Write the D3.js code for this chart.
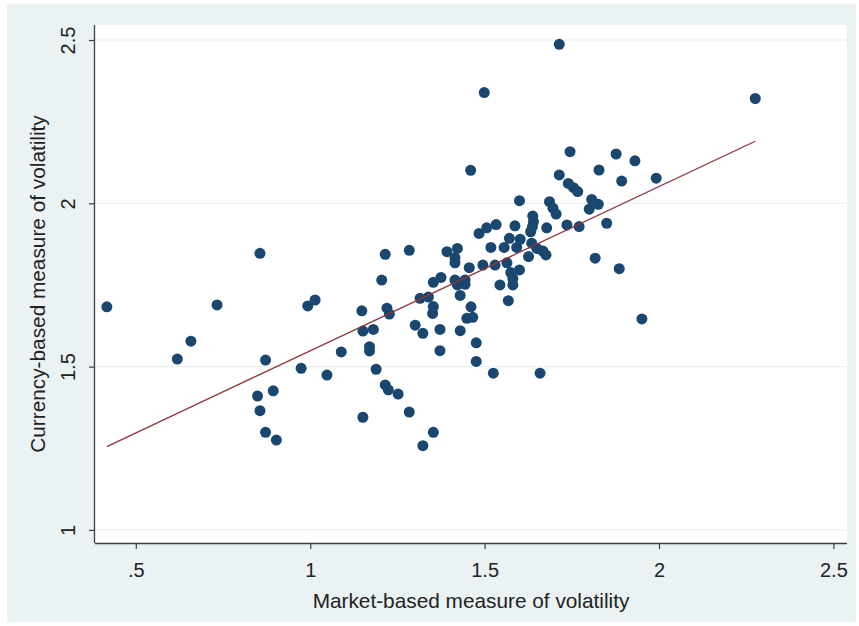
<!DOCTYPE html>
<html>
<head>
<meta charset="utf-8">
<script src="https://cdn.jsdelivr.net/npm/d3@7"></script>
<style>
  html, body { margin: 0; padding: 0; background: #ffffff; }
  svg { display: block; }
  text { font-family: "Liberation Sans", Arial, sans-serif; }
</style>
</head>
<body>
<svg id="chart" width="859" height="626"></svg>
<script>
// ---- data ----
const marketVol = [
  0.417, 0.619, 0.658, 0.733, 0.856, 0.872, 0.849, 0.856, 0.894, 0.872,
  0.903, 0.974, 0.993, 1.014, 1.048, 1.089, 1.148, 1.151, 1.151, 1.181,
  1.170, 1.170, 1.189, 1.205, 1.215, 1.220, 1.227, 1.215, 1.224, 1.252,
  1.284, 1.284, 1.301, 1.323, 1.315, 1.339, 1.353, 1.351, 1.353, 1.375,
  1.353, 1.323, 1.372, 1.372, 1.392, 1.422, 1.415, 1.415, 1.415, 1.444,
  1.422, 1.444, 1.430, 1.430, 1.456, 1.460, 1.461, 1.449, 1.466, 1.476,
  1.476, 1.499, 1.484, 1.506, 1.495, 1.518, 1.525, 1.530, 1.533, 1.544,
  1.556, 1.564, 1.568, 1.571, 1.575, 1.581, 1.581, 1.587, 1.592, 1.600,
  1.600, 1.602, 1.626, 1.635, 1.650, 1.667, 1.676, 1.638, 1.640, 1.637,
  1.632, 1.659, 1.678, 1.686, 1.696, 1.705, 1.714, 1.714, 1.736, 1.740,
  1.755, 1.767, 1.745, 1.771, 1.807, 1.826, 1.800, 1.817, 1.828, 1.850,
  1.877, 1.886, 1.893, 1.931, 1.992, 1.951, 2.276
];
const currencyVol = [
  1.683, 1.523, 1.578, 1.689, 1.847, 1.520, 1.410, 1.365, 1.426, 1.299,
  1.275, 1.495, 1.686, 1.704, 1.474, 1.545, 1.671, 1.609, 1.345, 1.614,
  1.561, 1.548, 1.492, 1.765, 1.844, 1.679, 1.661, 1.444, 1.429, 1.416,
  1.856, 1.361, 1.627, 1.602, 1.709, 1.713, 1.684, 1.663, 1.758, 1.773,
  1.299, 1.258, 1.614, 1.549, 1.852, 1.862, 1.833, 1.818, 1.765, 1.765,
  1.750, 1.752, 1.718, 1.610, 1.803, 2.101, 1.683, 1.648, 1.651, 1.573,
  1.516, 2.339, 1.908, 1.925, 1.811, 1.865, 1.480, 1.811, 1.935, 1.750,
  1.865, 1.818, 1.702, 1.893, 1.788, 1.770, 1.750, 1.931, 1.865, 1.796,
  2.008, 1.890, 1.837, 1.878, 1.862, 1.854, 1.842, 1.961, 1.944, 1.928,
  1.913, 1.480, 1.925, 2.005, 1.985, 1.967, 2.487, 2.087, 1.934, 2.061,
  2.048, 2.036, 2.158, 1.929, 2.012, 1.997, 1.982, 1.832, 2.102, 1.939,
  2.151, 1.800, 2.068, 2.130, 2.077, 1.646, 2.321
];
const xTicks = [0.5, 1, 1.5, 2, 2.5];
const xTickLabels = [".5", "1", "1.5", "2", "2.5"];
const yTicks = [1, 1.5, 2, 2.5];
const yTickLabels = ["1", "1.5", "2", "2.5"];
const xTitle = "Market-based measure of volatility";
const yTitle = "Currency-based measure of volatility";

// ---- layout ----
const plot = { left: 95, right: 847, top: 25, bottom: 543 };

const svg = d3.select("#chart");

// graph region (light blue-grey) and plot region (white)
svg.append("rect").attr("x", 7).attr("y", 4).attr("width", 849).attr("height", 618)
  .attr("fill", "#eaf2f3");
svg.append("rect").attr("x", plot.left).attr("y", plot.top)
  .attr("width", plot.right - plot.left).attr("height", plot.bottom - plot.top)
  .attr("fill", "#ffffff");

const x = d3.scaleLinear().domain([0.383, 2.539]).range([plot.left, plot.right]);
const y = d3.scaleLinear().domain([0.960, 2.546]).range([plot.bottom, plot.top]);

// horizontal grid lines
svg.append("g").selectAll("line").data(yTicks).join("line")
  .attr("x1", plot.left).attr("x2", plot.right)
  .attr("y1", d => y(d)).attr("y2", d => y(d))
  .attr("stroke", "#eaf2f3").attr("stroke-width", 1.2);

// data points
const pts = marketVol.map((v, i) => ({ x: v, y: currencyVol[i] }));
svg.append("g").selectAll("circle").data(pts).join("circle")
  .attr("cx", d => x(d.x)).attr("cy", d => y(d.y)).attr("r", 5.5)
  .attr("fill", "#1a476f");

// linear fit (least squares on the data)
const mx = d3.mean(marketVol), my = d3.mean(currencyVol);
let sxy = 0, sxx = 0;
pts.forEach(p => { sxy += (p.x - mx) * (p.y - my); sxx += (p.x - mx) * (p.x - mx); });
const slope = sxy / sxx, intercept = my - slope * mx;
const [x0, x1] = d3.extent(marketVol);
svg.append("line")
  .attr("x1", x(x0)).attr("y1", y(intercept + slope * x0))
  .attr("x2", x(x1)).attr("y2", y(intercept + slope * x1))
  .attr("stroke", "#90353b").attr("stroke-width", 1.3);

// axes
const xAxis = d3.axisBottom(x).tickValues(xTicks).tickSize(6)
  .tickFormat((d, i) => xTickLabels[i]);
const gx = svg.append("g").attr("transform", `translate(0,${plot.bottom})`).call(xAxis);
gx.select(".domain").attr("d", `M${plot.left},0.5H${plot.right}`).attr("stroke", "#3c3c3c").attr("stroke-width", 1.3);
gx.selectAll(".tick line").attr("stroke", "#3c3c3c").attr("stroke-width", 1.2);
gx.selectAll(".tick text").attr("font-size", 20).attr("fill", "#222").attr("dy", "1.25em")
  .attr("font-family", "'Liberation Sans', Arial, sans-serif");

const yAxis = d3.axisLeft(y).tickValues(yTicks).tickSize(6)
  .tickFormat((d, i) => yTickLabels[i]);
const gy = svg.append("g").attr("transform", `translate(${plot.left},0)`).call(yAxis);
gy.select(".domain").attr("d", `M-0.5,${plot.bottom}V${plot.top}`).attr("stroke", "#3c3c3c").attr("stroke-width", 1.3);
gy.selectAll(".tick line").attr("stroke", "#3c3c3c").attr("stroke-width", 1.2);
gy.selectAll(".tick text")
  .attr("font-size", 20).attr("fill", "#222")
  .attr("font-family", "'Liberation Sans', Arial, sans-serif")
  .attr("x", null).attr("dy", null)
  .attr("text-anchor", "middle")
  .attr("transform", "translate(-20,0) rotate(-90)");

// axis titles
svg.append("text").attr("x", (plot.left + plot.right) / 2).attr("y", 608)
  .attr("text-anchor", "middle").attr("font-size", 20.8).attr("fill", "#222")
  .text(xTitle);
svg.append("text")
  .attr("transform", `translate(45,${(plot.top + plot.bottom) / 2}) rotate(-90)`)
  .attr("text-anchor", "middle").attr("font-size", 20.8).attr("fill", "#222")
  .text(yTitle);
</script>
</body>
</html>
